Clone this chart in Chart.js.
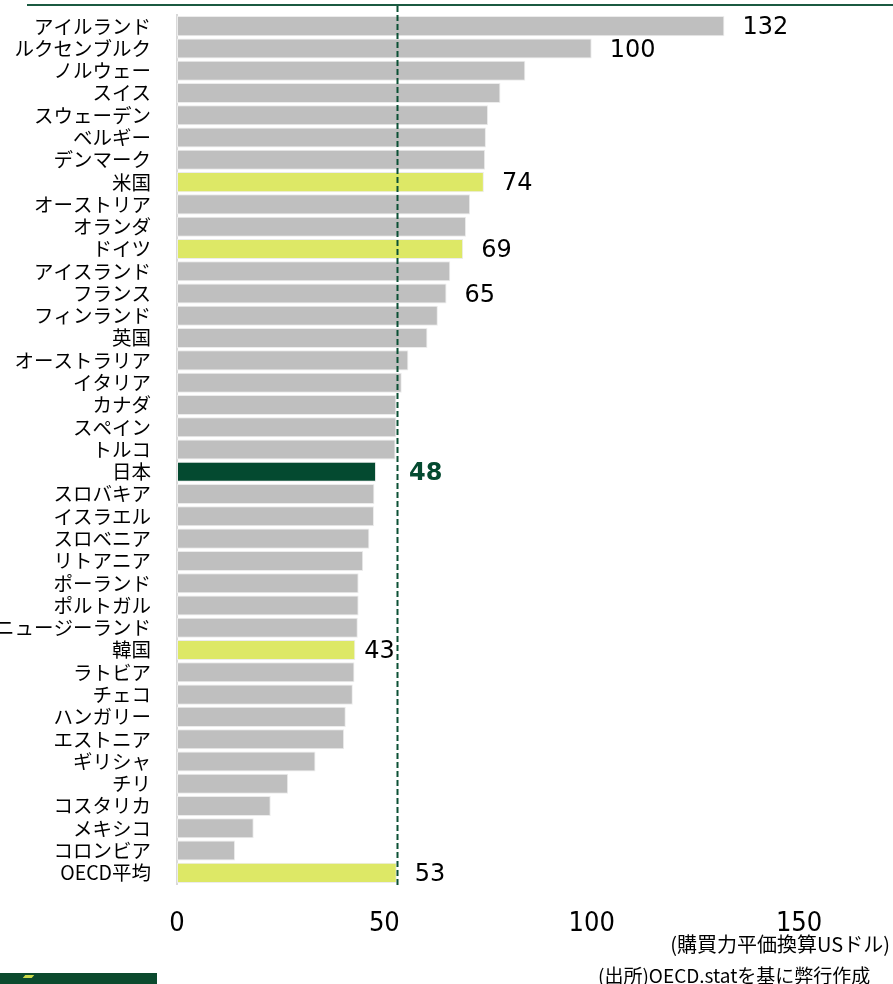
<!DOCTYPE html>
<html lang="ja">
<head>
<meta charset="utf-8">
<title>OECD諸国の時間当たり労働生産性</title>
<script src="https://cdn.jsdelivr.net/npm/chart.js@4/dist/chart.umd.min.js"></script>
<style>
  html, body { margin: 0; padding: 0; background: #ffffff; }
  #wrap { position: relative; width: 893px; height: 984px; overflow: hidden; }
  #chart { position: absolute; left: 0; top: 0; }
  .unit {
    position: absolute; right: 3px; top: 934px;
    font: 20px "Noto Sans CJK JP", sans-serif; line-height: 1; color: #000;
  }
  .source {
    position: absolute; left: 598px; top: 965px;
    font: 19px "Noto Sans CJK JP", sans-serif; line-height: 1; color: #000; white-space: nowrap;
  }
  .logo { position: absolute; left: 0; top: 973px; width: 157px; height: 11px; background: #0b4a2e; }
  .logo i { position: absolute; left: 24px; top: 2px; width: 9px; height: 3px; background: #c9d94a; transform: skewX(-40deg); }
</style>
</head>
<body>
<div id="wrap">
  <canvas id="chart" width="893" height="984"></canvas>
  <div class="unit">(購買力平価換算USドル)</div>
  <div class="source">(出所)OECD.statを基に弊行作成</div>
  <div class="logo"><i></i></div>
</div>
<script>
// 国名（上から順）
const countries = [
  'アイルランド', 'ルクセンブルク', 'ノルウェー', 'スイス', 'スウェーデン',
  'ベルギー', 'デンマーク', '米国', 'オーストリア', 'オランダ',
  'ドイツ', 'アイスランド', 'フランス', 'フィンランド', '英国',
  'オーストラリア', 'イタリア', 'カナダ', 'スペイン', 'トルコ',
  '日本', 'スロバキア', 'イスラエル', 'スロベニア', 'リトアニア',
  'ポーランド', 'ポルトガル', 'ニュージーランド', '韓国', 'ラトビア',
  'チェコ', 'ハンガリー', 'エストニア', 'ギリシャ', 'チリ',
  'コスタリカ', 'メキシコ', 'コロンビア', 'OECD平均'
];

// 時間当たり労働生産性（購買力平価換算USドル）
const productivity = [
  132, 100, 84, 78, 75,
  74.5, 74.3, 74, 70.7, 69.7,
  69, 65.9, 65, 62.9, 60.4,
  55.8, 54.2, 52.9, 52.9, 52.7,
  48, 47.6, 47.5, 46.4, 44.9,
  43.8, 43.8, 43.6, 43, 42.8,
  42.4, 40.7, 40.3, 33.4, 26.8,
  22.6, 18.5, 14.0, 53
];

// 強調表示する国と日本
const highlighted = ['米国', 'ドイツ', '韓国', 'OECD平均'];
const focusCountry = '日本';
const averageLabel = 'OECD平均';

// 数値を添える棒
const labelled = ['アイルランド', 'ルクセンブルク', '米国', 'ドイツ', 'フランス', '日本', '韓国', 'OECD平均'];

// 横軸の目盛
const axisTicks = [0, 50, 100, 150];

const COLORS = { base: '#bfbfbf', highlight: '#dde866', focus: '#044a30', line: '#0b5034', rule: '#1b5a41' };

const barColors = countries.map(c =>
  c === focusCountry ? COLORS.focus : (highlighted.includes(c) ? COLORS.highlight : COLORS.base));

// 数値ラベルの棒からの間隔
const labelGap = { '日本': 33, '韓国': 9 };

const overlay = {
  id: 'overlay',
  afterDatasetsDraw(chart) {
    const { ctx, chartArea, scales } = chart;
    const x = scales.x;
    ctx.save();

    // 上端の罫線
    ctx.strokeStyle = COLORS.rule;
    ctx.lineWidth = 2;
    ctx.beginPath();
    ctx.moveTo(27, 5);
    ctx.lineTo(893, 5);
    ctx.stroke();

    // OECD平均の破線
    const avgX = Math.round(x.getPixelForValue(productivity[countries.indexOf(averageLabel)])) + 0.5;
    ctx.strokeStyle = COLORS.line;
    ctx.lineWidth = 2;
    ctx.setLineDash([6, 3]);
    ctx.beginPath();
    ctx.moveTo(avgX, 6);
    ctx.lineTo(avgX, chartArea.bottom + 3);
    ctx.stroke();
    ctx.setLineDash([]);

    // 数値ラベル
    const meta = chart.getDatasetMeta(0);
    ctx.textBaseline = 'middle';
    ctx.textAlign = 'left';
    labelled.forEach(name => {
      const i = countries.indexOf(name);
      const bar = meta.data[i];
      const gap = labelGap[name] !== undefined ? labelGap[name] : 18;
      if (name === focusCountry) {
        ctx.font = 'bold 24px "DejaVu Sans", sans-serif';
        ctx.fillStyle = COLORS.focus;
      } else {
        ctx.font = '24px "DejaVu Sans", sans-serif';
        ctx.fillStyle = '#000000';
      }
      ctx.fillText(String(productivity[i]), bar.x + gap, bar.y + 2);
    });
    ctx.restore();
  }
};

new Chart(document.getElementById('chart'), {
  type: 'bar',
  data: {
    labels: countries,
    datasets: [{
      data: productivity,
      backgroundColor: barColors,
      borderColor: '#ececec',
      borderWidth: 1,
      borderSkipped: false,
      categoryPercentage: 1,
      barPercentage: 0.9
    }]
  },
  options: {
    indexAxis: 'y',
    responsive: false,
    animation: false,
    layout: { padding: { top: 15, right: 11, bottom: 40, left: 0 } },
    plugins: { legend: { display: false }, tooltip: { enabled: false } },
    scales: {
      y: {
        type: 'category',
        grid: { display: false },
        border: { display: true, color: '#d9d9d9', width: 2 },
        ticks: {
          color: '#000000',
          padding: 18,
          autoSkip: false,
          font: { family: '"Noto Sans CJK JP", sans-serif', size: 19.5 }
        },
        afterFit(scale) {
          scale.width = 177;
          scale.paddingTop = 0;
          scale.paddingBottom = 0;
        }
      },
      x: {
        type: 'linear',
        min: 0,
        max: 170,
        grid: { display: false, drawTicks: false },
        border: { display: false },
        ticks: {
          stepSize: 50,
          includeBounds: false,
          padding: 24,
          color: '#000000',
          maxRotation: 0,
          font: { family: '"Liberation Sans Narrow", "DejaVu Sans Condensed", sans-serif', size: 27 },
          callback: v => axisTicks.includes(v) ? String(v) : ''
        },
        afterFit(scale) { scale.height = 60; }
      }
    }
  },
  plugins: [overlay]
});
</script>
</body>
</html>
